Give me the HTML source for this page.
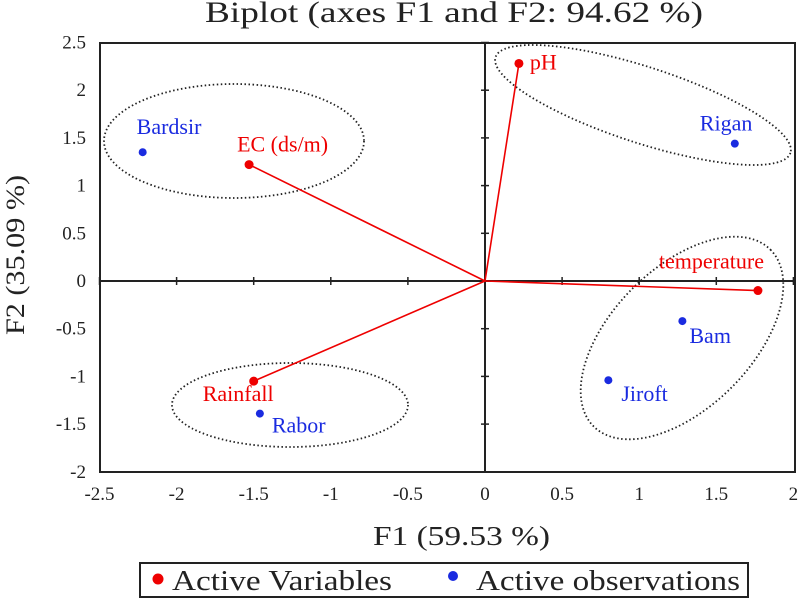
<!DOCTYPE html>
<html><head><meta charset="utf-8"><style>
body{margin:0;background:#fff}
svg{font-family:"Liberation Serif",serif}
</style></head><body>
<svg id="c" width="800" height="600" xmlns="http://www.w3.org/2000/svg">
<text x="205" y="22" font-size="30" textLength="498" lengthAdjust="spacingAndGlyphs" fill="#222">Biplot (axes F1 and F2: 94.62 %)</text>
<rect x="100" y="43" width="695" height="429" fill="none" stroke="#222" stroke-width="2"/>
<g id="axes"></g>
<g id="ellipses" fill="none" stroke="#222" stroke-width="1.8" stroke-dasharray="1.5,2.5"></g>
<g id="marks"></g>
<text transform="translate(24,335) rotate(-90)" font-size="26" textLength="160" lengthAdjust="spacingAndGlyphs" fill="#222">F2 (35.09 %)</text>
<text x="373" y="545" font-size="27" textLength="177" lengthAdjust="spacingAndGlyphs" fill="#222">F1 (59.53 %)</text>
<g>
<rect x="140" y="563" width="608" height="34" fill="#fff" stroke="#222" stroke-width="2"/>
<circle cx="158" cy="579" r="5.5" fill="#e00"/>
<text x="172" y="590" font-size="28" textLength="220" lengthAdjust="spacingAndGlyphs" fill="#222">Active Variables</text>
<circle cx="453" cy="576" r="5" fill="#1a2be0"/>
<text x="476" y="590" font-size="28" textLength="264" lengthAdjust="spacingAndGlyphs" fill="#222">Active observations</text>
</g>
</svg>
<script>
const xTicks=[-2.5,-2,-1.5,-1,-0.5,0,0.5,1,1.5,2];
const yTicks=[2.5,2,1.5,1,0.5,0,-0.5,-1,-1.5,-2];
const varNames=["pH","EC (ds/m)","temperature","Rainfall"];
const varX=[0.22,-1.53,1.77,-1.5];
const varY=[2.28,1.22,-0.1,-1.05];
const obsNames=["Bardsir","Rigan","Bam","Jiroft","Rabor"];
const obsX=[-2.22,1.62,1.28,0.8,-1.46];
const obsY=[1.35,1.44,-0.42,-1.04,-1.39];
const NS="http://www.w3.org/2000/svg";
const sx=v=>485+(v)*154.2;
const sy=v=>281-(v)*95.4;
function mk(t,a,p){const e=document.createElementNS(NS,t);for(const k in a)e.setAttribute(k,a[k]);p.appendChild(e);return e;}
const ax=document.getElementById('axes');
let l=mk('line',{x1:100,x2:795,y1:sy(0),y2:sy(0),stroke:'#222','stroke-width':2},ax);


l=mk('line',{x1:sx(0),x2:sx(0),y1:43,y2:472,stroke:'#222','stroke-width':2},ax);


xTicks.forEach(v=>{
 mk('line',{x1:sx(v),x2:sx(v),y1:sy(0)-4,y2:sy(0)+4,stroke:'#222','stroke-width':1.5},ax);
 const t=mk('text',{x:sx(v),y:500,'font-size':19,'text-anchor':'middle',fill:'#222'},ax);t.textContent=v;
 
 
});
yTicks.forEach(v=>{
 mk('line',{x1:sx(0)-4,x2:sx(0)+4,y1:sy(v),y2:sy(v),stroke:'#222','stroke-width':1.5},ax);
 const t=mk('text',{x:86,y:sy(v)+6,'font-size':19,'text-anchor':'end',fill:'#222'},ax);t.textContent=v;
 
 
});
const el=document.getElementById('ellipses');
[[234,141,130,57,0],[643,105,155,38,18],[682,338,125,70,-45],[290,405,118,42,0]].forEach((e,i)=>{
 const g=mk('ellipse',{cx:e[0],cy:e[1],rx:e[2],ry:e[3],transform:`rotate(${e[4]} ${e[0]} ${e[1]})`},el);
 
 
});
const m=document.getElementById('marks');
const vOff=[[11,6],[-12,-13],[-99,-22],[-51,20]];
varNames.forEach((n,i)=>{
 const ln=mk('line',{x1:sx(0),y1:sy(0),x2:sx(varX[i]),y2:sy(varY[i]),stroke:'#e00','stroke-width':1.6},m);
 
 
 const c=mk('circle',{cx:sx(varX[i]),cy:sy(varY[i]),r:4.5,fill:'#e00'},m);
 
 
 const t=mk('text',{x:sx(varX[i])+vOff[i][0],y:sy(varY[i])+vOff[i][1],'font-size':22,fill:'#e00'},m);t.textContent=n;
 
 
});
const oOff=[[-6,-18],[-35,-13],[7,22],[13,21],[12,19]];
obsNames.forEach((n,i)=>{
 const c=mk('circle',{cx:sx(obsX[i]),cy:sy(obsY[i]),r:4,fill:'#1a2be0'},m);
 
 
 const t=mk('text',{x:sx(obsX[i])+oOff[i][0],y:sy(obsY[i])+oOff[i][1],'font-size':22,fill:'#1a2be0'},m);t.textContent=n;
 
 
});
</script>
</body></html>
